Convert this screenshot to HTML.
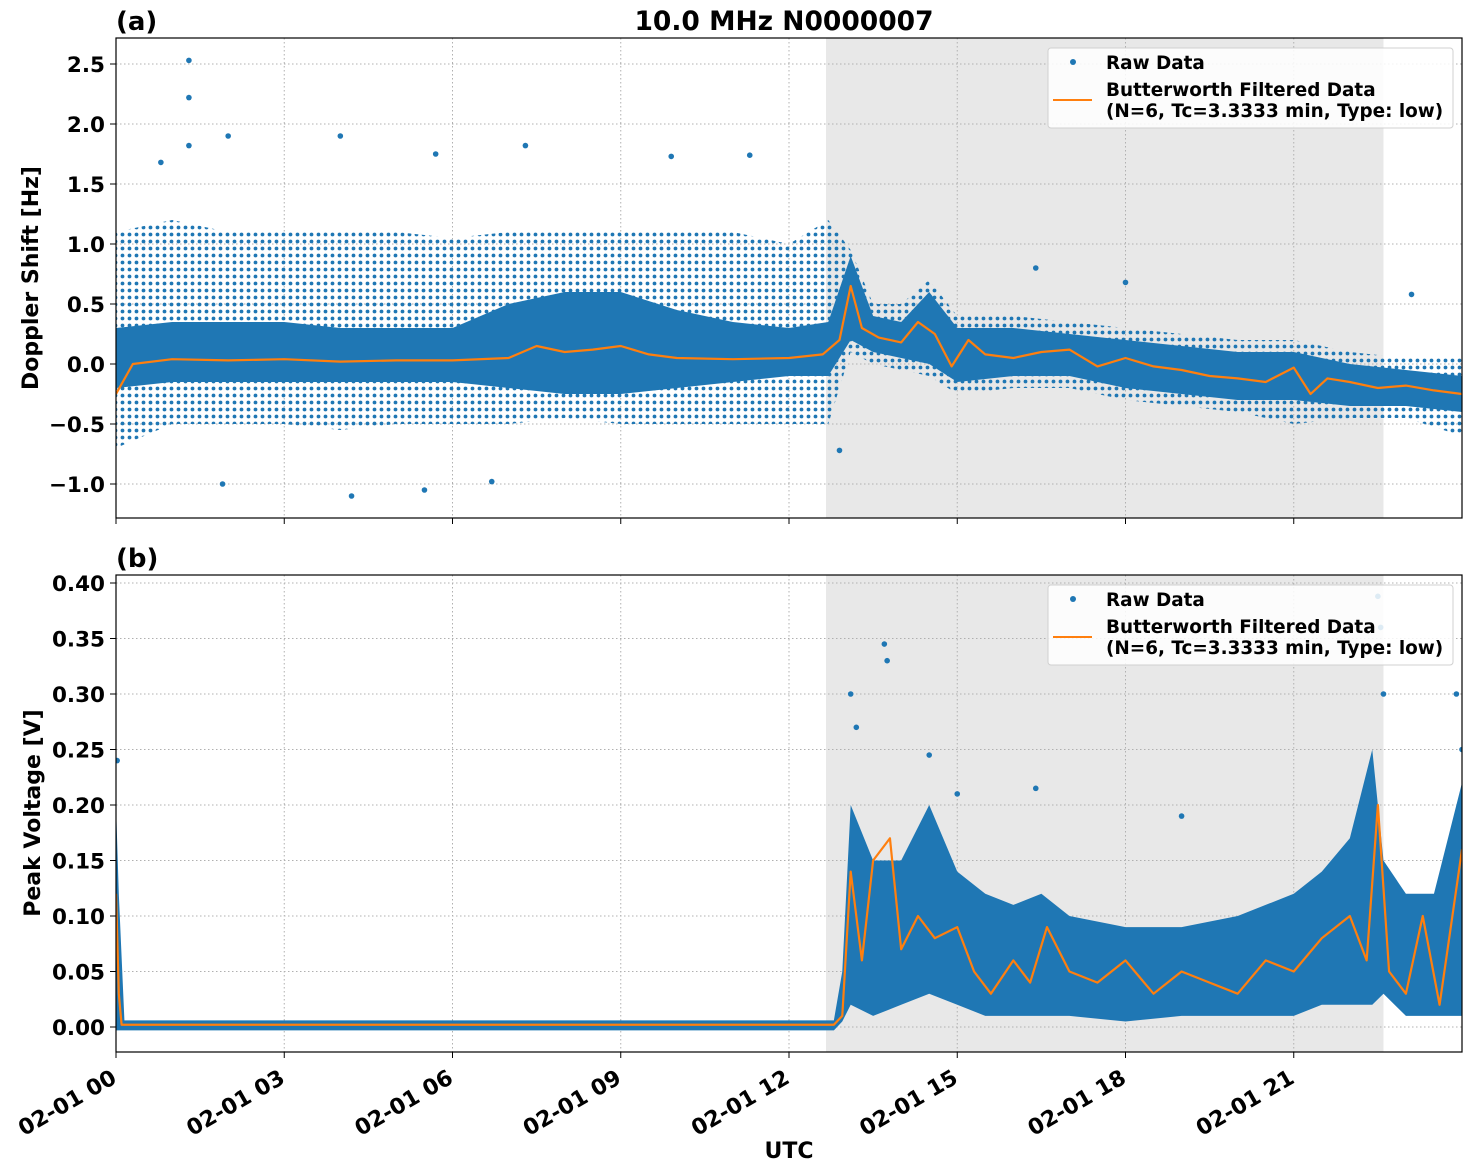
<!DOCTYPE html>
<html><head><meta charset="utf-8"><style>
body{margin:0;background:#fff}
svg{display:block;font-family:"DejaVu Sans","Liberation Sans",sans-serif;font-weight:bold}
</style></head><body>
<svg id="fig" width="1472" height="1172" viewBox="0 0 1472 1172" xmlns="http://www.w3.org/2000/svg">
<defs>
<pattern id="dots" width="7" height="7" patternUnits="userSpaceOnUse"><circle cx="3.5" cy="3.5" r="1.9" fill="#1f77b4"/></pattern>
<clipPath id="clipA"><rect x="116" y="38" width="1346" height="480"/></clipPath>
<clipPath id="clipB"><rect x="116" y="575" width="1346" height="477"/></clipPath>
</defs>
<text x="784" y="30" font-size="26.5" text-anchor="middle">10.0 MHz N0000007</text>
<text x="116" y="30" font-size="26">(a)</text>
<text x="116" y="567" font-size="26">(b)</text>
<g id="pA"></g>
<g id="pB"></g>
<text transform="translate(38,278) rotate(-90)" font-size="22" text-anchor="middle">Doppler Shift [Hz]</text>
<text transform="translate(40,813) rotate(-90)" font-size="22" text-anchor="middle">Peak Voltage [V]</text>
<text x="789" y="1158" font-size="22" text-anchor="middle">UTC</text>
</svg>
<script>
// Panel (a) data
const bandTA=[0,1,2,3,4,5,6,7,8,9,10,11,12,12.7,13.1,13.5,14,14.5,15,16,17,18,19,20,21,22,23,24];
const coreLoA=[-0.2,-0.15,-0.15,-0.15,-0.15,-0.15,-0.15,-0.2,-0.25,-0.25,-0.2,-0.15,-0.1,-0.1,0.2,0.1,0.05,0.0,-0.15,-0.1,-0.1,-0.2,-0.25,-0.3,-0.3,-0.35,-0.35,-0.4];
const coreHiA=[0.3,0.35,0.35,0.35,0.3,0.3,0.3,0.5,0.6,0.6,0.45,0.35,0.3,0.35,0.9,0.4,0.35,0.6,0.3,0.3,0.25,0.2,0.15,0.1,0.1,0.0,-0.05,-0.1];
const outLoA=[-0.7,-0.5,-0.5,-0.5,-0.55,-0.5,-0.5,-0.5,-0.45,-0.5,-0.5,-0.5,-0.5,-0.5,0.1,0.0,-0.05,-0.1,-0.25,-0.2,-0.2,-0.3,-0.35,-0.4,-0.5,-0.45,-0.45,-0.6];
const outHiA=[1.1,1.2,1.1,1.1,1.1,1.1,1.05,1.1,1.1,1.1,1.1,1.1,1.0,1.2,0.95,0.5,0.5,0.7,0.4,0.4,0.35,0.3,0.25,0.2,0.2,0.1,0.05,0.05];
const outlierTA=[1.3,1.3,1.3,2,4,4.2,5.5,6.7,7.3,16.4,18,23.1,12.9,1.9,0.8,5.7,9.9,11.3];
const outlierVA=[2.53,2.22,1.82,1.9,1.9,-1.1,-1.05,-0.98,1.82,0.8,0.68,0.58,-0.72,-1.0,1.68,1.75,1.73,1.74];
const filtTA=[0,0.3,1,2,3,4,5,6,7,7.5,8,8.5,9,9.5,10,11,12,12.6,12.9,13.1,13.3,13.6,14,14.3,14.6,14.9,15.2,15.5,16,16.5,17,17.5,18,18.5,19,19.5,20,20.5,21,21.3,21.6,22,22.5,23,23.5,24];
const filtVA=[-0.25,0.0,0.04,0.03,0.04,0.02,0.03,0.03,0.05,0.15,0.1,0.12,0.15,0.08,0.05,0.04,0.05,0.08,0.2,0.65,0.3,0.22,0.18,0.35,0.25,-0.02,0.2,0.08,0.05,0.1,0.12,-0.02,0.05,-0.02,-0.05,-0.1,-0.12,-0.15,-0.03,-0.25,-0.12,-0.15,-0.2,-0.18,-0.22,-0.25];
const yTicksA=[-1.0,-0.5,0.0,0.5,1.0,1.5,2.0,2.5];
const yTickLabelsA=["\u22121.0","\u22120.5","0.0","0.5","1.0","1.5","2.0","2.5"];
// Panel (b) data
const bandTB=[0,0.05,0.15,12.8,12.95,13.1,13.5,14,14.5,15,15.5,16,16.5,17,18,19,20,21,21.5,22,22.4,22.6,23,23.5,24];
const coreLoB=[-0.003,-0.003,-0.003,-0.003,0.005,0.02,0.01,0.02,0.03,0.02,0.01,0.01,0.01,0.01,0.005,0.01,0.01,0.01,0.02,0.02,0.02,0.03,0.01,0.01,0.01];
const coreHiB=[0.2,0.12,0.006,0.006,0.05,0.2,0.15,0.15,0.2,0.14,0.12,0.11,0.12,0.1,0.09,0.09,0.1,0.12,0.14,0.17,0.25,0.15,0.12,0.12,0.22];
const outlierTB=[0.02,13.1,13.7,13.75,14.5,15,16.4,19,22.5,22.55,22.6,23.9,24,13.2];
const outlierVB=[0.24,0.3,0.345,0.33,0.245,0.21,0.215,0.19,0.388,0.36,0.3,0.3,0.25,0.27];
const filtTB=[0,0.05,0.1,12.8,12.95,13.1,13.3,13.5,13.8,14,14.3,14.6,15,15.3,15.6,16,16.3,16.6,17,17.5,18,18.5,19,19.5,20,20.5,21,21.5,22,22.3,22.5,22.7,23,23.3,23.6,24];
const filtVB=[0.12,0.03,0.002,0.002,0.01,0.14,0.06,0.15,0.17,0.07,0.1,0.08,0.09,0.05,0.03,0.06,0.04,0.09,0.05,0.04,0.06,0.03,0.05,0.04,0.03,0.06,0.05,0.08,0.1,0.06,0.2,0.05,0.03,0.1,0.02,0.16];
const yTicksB=[0,0.05,0.1,0.15,0.2,0.25,0.3,0.35,0.4];
const yTickLabelsB=["0.00","0.05","0.10","0.15","0.20","0.25","0.30","0.35","0.40"];
const xTicks=[0,3,6,9,12,15,18,21];
const xTickLabels=["02-01 00","02-01 03","02-01 06","02-01 09","02-01 12","02-01 15","02-01 18","02-01 21"];
const spanStart=12.66, spanEnd=22.6;

const NS="http://www.w3.org/2000/svg";
const X0=116,X1=1462;
const xs=h=>X0+(X1-X0)*h/24;
function mk(p,tag,at){const e=document.createElementNS(NS,tag);for(const k in at)e.setAttribute(k,at[k]);p.appendChild(e);return e;}

function panel(g,top,bot,ys,ticks,labels,clip,bT,cLo,cHi,oLo,oHi,oT,oV,fT,fV,showX,key){
  const r=mk(g,'rect',{x:X0,y:top,width:X1-X0,height:bot-top,fill:'#fff'});
  
  const sp=mk(g,'rect',{x:xs(spanStart),y:top,width:xs(spanEnd)-xs(spanStart),height:bot-top,fill:'#e8e8e8'});
  
  const grid=mk(g,'g',{stroke:'#b0b0b0','stroke-width':1,'stroke-dasharray':'1.5,2.5'});
  
  xTicks.forEach(t=>mk(grid,'line',{x1:xs(t),x2:xs(t),y1:top,y2:bot}));
  ticks.forEach(t=>mk(grid,'line',{x1:X0,x2:X1,y1:ys(t),y2:ys(t)}));
  const d=mk(g,'g',{'clip-path':'url(#'+clip+')'});
  
  function band(lo,hi,fill){let s='';bT.forEach((t,i)=>s+=(i?'L':'M')+xs(t)+','+ys(hi[i]));
    for(let i=bT.length-1;i>=0;i--)s+='L'+xs(bT[i])+','+ys(lo[i]);return mk(d,'path',{d:s+'Z',fill:fill});}
  if(oLo){const b=band(oLo,oHi,'url(#dots)');}
  const c=band(cLo,cHi,'#1f77b4');
  oT.forEach((t,i)=>{const p=mk(d,'circle',{cx:xs(t),cy:ys(oV[i]),r:2.8,fill:'#1f77b4'});
    });
  let s='';fT.forEach((t,i)=>s+=(i?'L':'M')+xs(t)+','+ys(fV[i]));
  const ln=mk(d,'path',{d:s,fill:'none',stroke:'#ff7f0e','stroke-width':2.2,'stroke-linejoin':'round'});
  
  const fr=mk(g,'rect',{x:X0,y:top,width:X1-X0,height:bot-top,fill:'none',stroke:'#000','stroke-width':1.2});
  
  const yt=mk(g,'g',{});
  ticks.forEach((t,i)=>{mk(yt,'line',{x1:X0-6,x2:X0,y1:ys(t),y2:ys(t),stroke:'#000'});
    const tx=mk(yt,'text',{x:X0-11,y:ys(t)+8,'font-size':21.5,'text-anchor':'end'});tx.textContent=labels[i];});
  const xt=mk(g,'g',{});
  xTicks.forEach((t,i)=>{mk(xt,'line',{x1:xs(t),x2:xs(t),y1:bot,y2:bot+6,stroke:'#000'});
    if(showX){const tx=mk(xt,'text',{transform:'translate('+(xs(t)+2)+','+(bot+30)+') rotate(-30)','font-size':22,'text-anchor':'end'});tx.textContent=xTickLabels[i];}});
  // legend
  const lg=mk(g,'g',{});
  const ly=top+10;
  mk(lg,'rect',{x:1048,y:ly,width:405,height:80,rx:3,fill:'#fff','fill-opacity':0.85,stroke:'#d0d0d0'});
  const e1=mk(lg,'g',{});
  mk(e1,'circle',{cx:1073,cy:ly+14,r:3,fill:'#1f77b4'});
  const t1=mk(e1,'text',{x:1106,y:ly+21,'font-size':18.4});t1.textContent='Raw Data';
  const e2=mk(lg,'g',{});
  mk(e2,'line',{x1:1053,x2:1092,y1:ly+52,y2:ly+52,stroke:'#ff7f0e','stroke-width':2});
  const t2=mk(e2,'text',{x:1106,y:ly+48,'font-size':18.4});t2.textContent='Butterworth Filtered Data';
  const t3=mk(e2,'text',{x:1106,y:ly+69,'font-size':18.4});t3.textContent='(N=6, Tc=3.3333 min, Type: low)';
}
const ysA=v=>364-120*v, ysB=v=>1027-1110*v;
panel(document.getElementById('pA'),38,518,ysA,yTicksA,yTickLabelsA,'clipA',bandTA,coreLoA,coreHiA,outLoA,outHiA,outlierTA,outlierVA,filtTA,filtVA,false,'a');
panel(document.getElementById('pB'),575,1052,ysB,yTicksB,yTickLabelsB,'clipB',bandTB,coreLoB,coreHiB,null,null,outlierTB,outlierVB,filtTB,filtVB,true,'b');
</script>
</body></html>
